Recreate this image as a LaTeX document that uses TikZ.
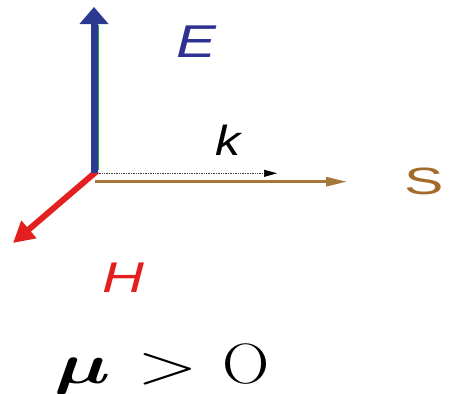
\documentclass[tikz,border=0pt]{standalone}
\usepackage{amsmath}
\usepackage{fontspec}
\newfontfamily\labfont{Liberation Sans}
\usetikzlibrary{arrows.meta,calc}
\definecolor{eblue}{HTML}{2E3192}
\definecolor{ablue}{HTML}{2B3990}
\definecolor{agreen}{HTML}{1FA04A}
\definecolor{ared}{HTML}{E3201F}
\definecolor{abrown}{HTML}{A5773A}
\definecolor{sbrown}{HTML}{A36B2A}
\tikzset{
  lab/.style={inner sep=0pt, anchor=center},
  mlab/.style={inner sep=0pt, anchor=base, font=\Huge}
}
\begin{document}
\begin{tikzpicture}[x=1pt,y=-1pt]
\useasboundingbox (0,0) rectangle (451,394);
\fill[white] (0,0) rectangle (451,394);
\coordinate (O) at (94,173);
\coordinate (Etip) at (94,7);
\coordinate (G1) at (98.2,170);
\coordinate (G2) at (98.2,25);
\coordinate (K0) at (97,173.3);
\coordinate (Ktip) at (277,173.3);
\coordinate (S0) at (95,181.7);
\coordinate (Stip) at (347,181.7);
\coordinate (H0) at (97,171);
\coordinate (Htip) at (13,243);
% k (dotted)
\draw[black!75, line width=0.7pt, densely dotted] (K0) -- ($(Ktip)+(-12,0)$);
\draw[black, line width=0.7pt, -{Triangle[length=13pt,width=7pt]}] ($(Ktip)+(-13,0)$) -- (Ktip);
% S
\draw[abrown, line width=2.8pt, -{Triangle[length=21pt,width=9pt]}] (S0) -- (Stip);
% H
\draw[ared, line width=6pt, -{Triangle[length=21pt,width=22pt]}] (H0) -- (Htip);
% E
\draw[ablue, line width=7pt, -{Triangle[length=17pt,width=28pt]}] (O) -- (Etip);
\draw[agreen, line width=1.4pt] (G1) -- (G2);
% labels
\node[lab, text=eblue] (Elab) at (196,41.5) {\labfont\fontsize{46}{46}\selectfont\itshape\scalebox{1.3}[1]{E}};
\node[lab, text=black] (klab) at (228.5,140) {\labfont\fontsize{42}{42}\selectfont\itshape\scalebox{1.2}[1]{k}};
\node[lab, text=sbrown] (Slab) at (424,181.5) {\labfont\fontsize{38}{38}\selectfont\scalebox{1.55}[1]{S}};
\node[lab, text=ared] (Hlab) at (123.5,277.5) {\labfont\fontsize{43}{43}\selectfont\itshape\scalebox{1.35}[1]{H}};
\node[mlab] (mu) at (82.5,383) {\scalebox{3.2}[2.29]{$\boldsymbol{\mu}$}};
\node[mlab] (gt) at (168,383) {\scalebox{3.2}[2.29]{$>$}};
\node[mlab] (zero) at (246.5,383) {\scalebox{2.63}[2.29]{$\mathrm{O}$}};
\end{tikzpicture}
\end{document}
